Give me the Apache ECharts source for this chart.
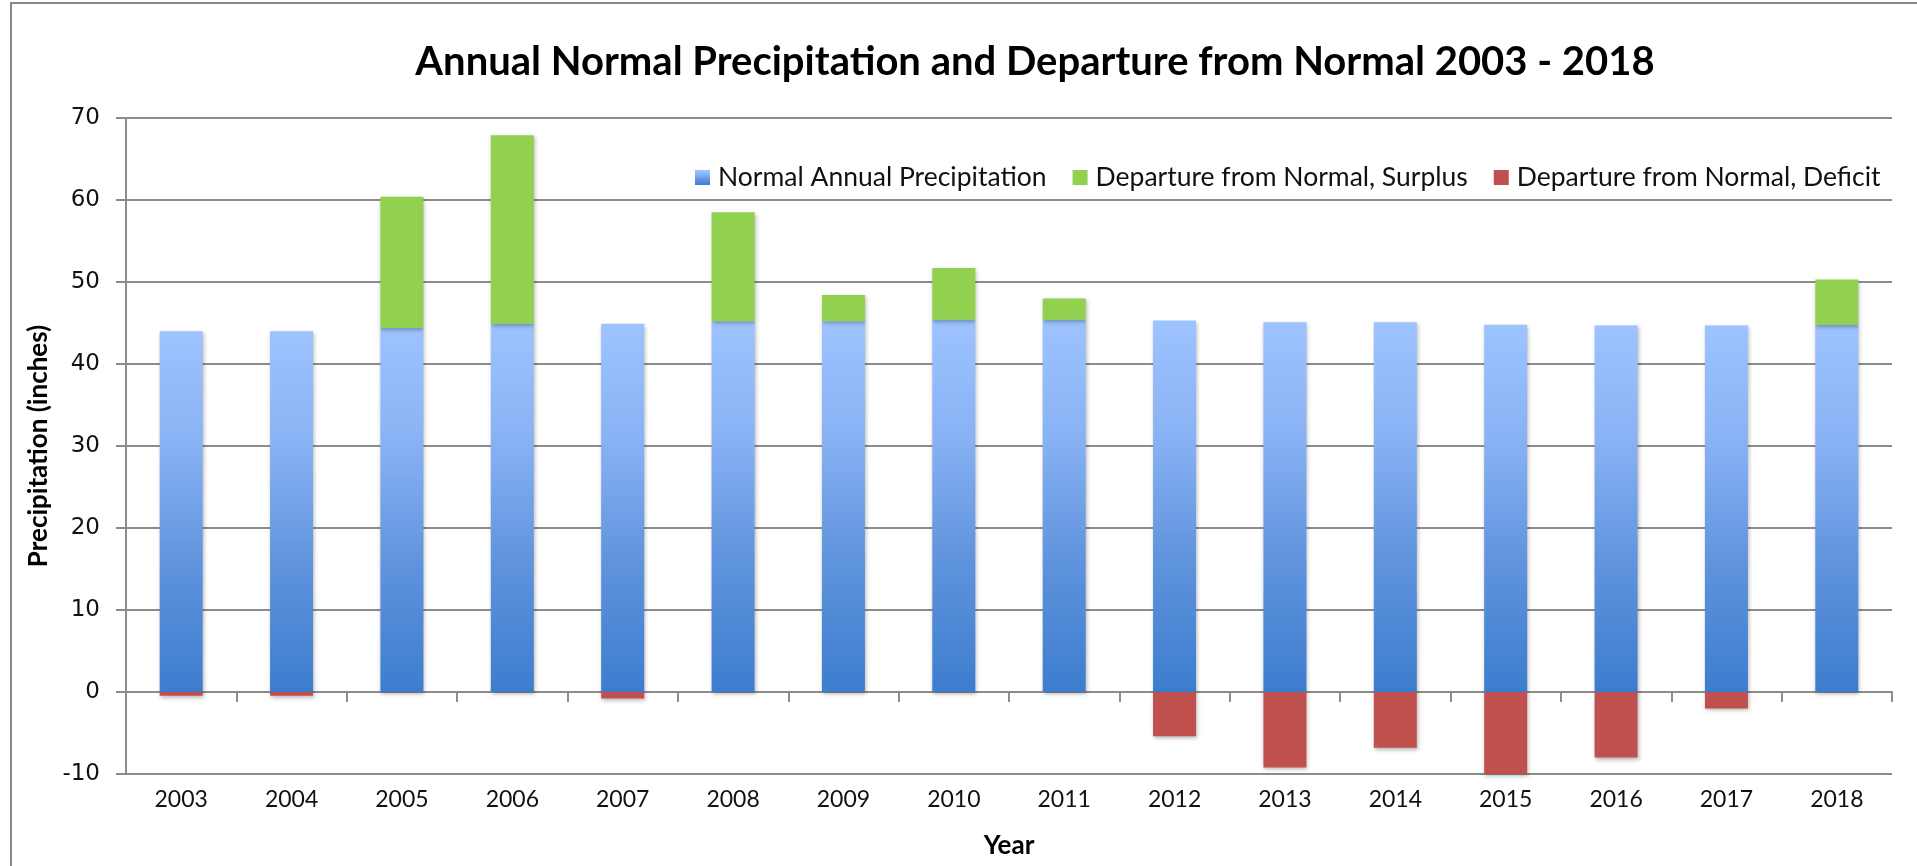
<!DOCTYPE html>
<html>
<head>
<meta charset="utf-8">
<title>Annual Normal Precipitation and Departure from Normal 2003 - 2018</title>
<script src="https://cdn.jsdelivr.net/npm/echarts@6/dist/echarts.min.js"></script>
<style>
  html, body { margin: 0; padding: 0; background: #ffffff; }
  #chart { width: 1917px; height: 866px; }
</style>
</head>
<body>
<div id="chart"></div>
<script>
// Years on the category axis
const years = ['2003', '2004', '2005', '2006', '2007', '2008', '2009', '2010',
               '2011', '2012', '2013', '2014', '2015', '2016', '2017', '2018'];

// Normal annual precipitation (inches)
const normalPrecip = [44.0, 44.0, 44.4, 44.9, 44.9, 45.2, 45.2, 45.4,
                      45.4, 45.3, 45.1, 45.1, 44.8, 44.7, 44.7, 44.8];

// Departure above normal (inches); null where the year was below normal
const surplus = [null, null, 16.0, 23.0, null, 13.3, 3.2, 6.3,
                 2.6, null, null, null, null, null, null, 5.5];

// Departure below normal (inches); null where the year was above normal
const deficit = [-0.45, -0.45, null, null, -0.8, null, null, null,
                 null, -5.4, -9.2, -6.8, -10.0, -8.0, -2.0, null];

// Value-axis range and step
const yMin = -10, yMax = 70, yStep = 10;

const gridColor = '#8c8c8c';
const labelFont = 'Lato, "Open Sans", sans-serif';

const normalGradient = new echarts.graphic.LinearGradient(0, 0, 0, 1, [
  { offset: 0, color: '#9dc3ff' },
  { offset: 0.3, color: '#8ab3f5' },
  { offset: 0.65, color: '#5f93dd' },
  { offset: 1, color: '#3d7dce' }
]);

const barShadow = {
  shadowBlur: 4,
  shadowColor: 'rgba(0,0,0,0.28)',
  shadowOffsetX: 1,
  shadowOffsetY: 2
};

const chart = echarts.init(document.getElementById('chart'), null, { renderer: 'canvas' });

chart.setOption({
  animation: false,
  backgroundColor: '#ffffff',
  title: {
    text: 'Annual Normal Precipitation and Departure from Normal 2003 - 2018',
    left: 1030,
    top: 37,
    textAlign: 'center',
    textStyle: {
      fontFamily: labelFont,
      fontWeight: 'bold',
      fontSize: 40,
      color: '#000000'
    }
  },
  legend: {
    left: 690,
    top: 159,
    icon: 'rect',
    itemWidth: 15,
    itemHeight: 15,
    itemGap: 26,
    textStyle: {
      fontFamily: labelFont,
      fontSize: 26.5,
      color: '#111111',
      padding: [0, 0, 0, 3]
    },
    data: ['Normal Annual Precipitation', 'Departure from Normal, Surplus', 'Departure from Normal, Deficit']
  },
  grid: {
    left: 126,
    right: 25,
    top: 118,
    bottom: 92
  },
  xAxis: [
    {
      type: 'category',
      data: years,
      axisLine: { onZero: true, lineStyle: { color: gridColor, width: 2 } },
      axisTick: { show: true, length: 10, lineStyle: { color: gridColor, width: 2 } },
      axisLabel: { show: false }
    },
    {
      type: 'category',
      data: years,
      position: 'bottom',
      axisLine: { show: false },
      axisTick: { show: false },
      axisLabel: {
        margin: 14,
        fontFamily: labelFont,
        fontSize: 23,
        color: '#111111'
      },
      name: 'Year',
      nameLocation: 'middle',
      nameGap: 59,
      nameTextStyle: {
        fontFamily: labelFont,
        fontWeight: 'bold',
        fontSize: 26,
        color: '#000000'
      }
    }
  ],
  yAxis: {
    type: 'value',
    min: yMin,
    max: yMax,
    interval: yStep,
    axisLine: { show: true, lineStyle: { color: gridColor, width: 2 } },
    axisTick: { show: true, length: 10, lineStyle: { color: gridColor, width: 2 } },
    splitLine: { show: true, lineStyle: { color: gridColor, width: 2 } },
    axisLabel: {
      margin: 26,
      fontFamily: '"DejaVu Sans", Verdana, sans-serif',
      fontSize: 23,
      color: '#111111'
    },
    name: 'Precipitation (inches)',
    nameLocation: 'middle',
    nameGap: 72,
    nameRotate: 90,
    nameTextStyle: {
      fontFamily: labelFont,
      fontWeight: 'bold',
      fontSize: 26,
      color: '#000000'
    }
  },
  series: [
    {
      name: 'Normal Annual Precipitation',
      type: 'bar',
      stack: 'precip',
      barWidth: 43,
      data: normalPrecip,
      itemStyle: Object.assign({ color: normalGradient }, barShadow)
    },
    {
      name: 'Departure from Normal, Surplus',
      type: 'bar',
      stack: 'precip',
      barWidth: 43,
      data: surplus,
      itemStyle: Object.assign({ color: '#92d050' }, barShadow)
    },
    {
      name: 'Departure from Normal, Deficit',
      type: 'bar',
      stack: 'precip',
      barWidth: 43,
      data: deficit,
      itemStyle: Object.assign({ color: '#c0504d' }, barShadow)
    }
  ],
  graphic: [
    {
      type: 'rect',
      silent: true,
      z: -1,
      shape: { x: 11, y: 3, width: 1950, height: 900 },
      style: { fill: 'none', stroke: '#878787', lineWidth: 2 }
    }
  ]
});
</script>
</body>
</html>
